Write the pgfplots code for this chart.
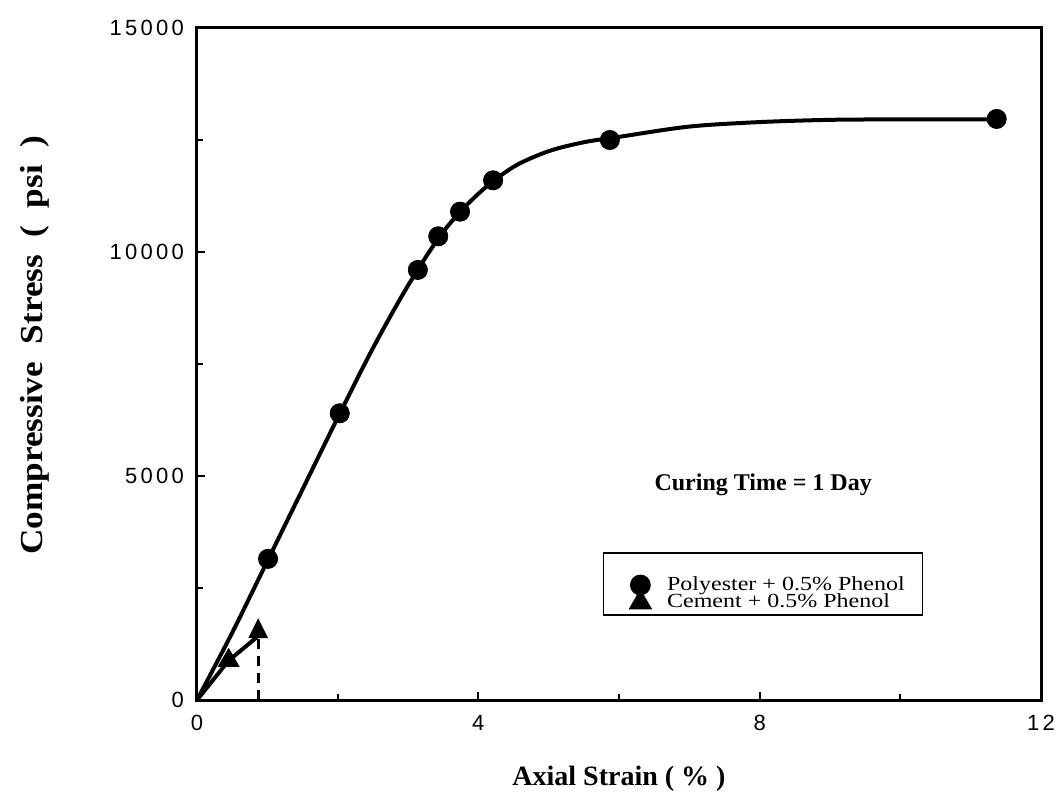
\documentclass[border=0pt]{standalone}
\usepackage{fontspec}
\setmainfont{Liberation Serif}
\newfontfamily\tickfont[LetterSpace=15]{Liberation Sans}
\newfontfamily\legfont[FakeStretch=1.2]{Liberation Serif}
\newfontfamily\labfont[FakeStretch=1.1]{Liberation Serif}
\usepackage{pgfplots}
\pgfplotsset{compat=1.18}
\usetikzlibrary{arrows.meta}
\begin{document}
\begin{tikzpicture}
\begin{axis}[name=ax,
  scale only axis, width=422pt, height=336pt,
  xmin=0, xmax=12, ymin=0, ymax=15000,
  xtick={0,4,8,12}, minor xtick={2,6,10},
  ytick={0,5000,10000,15000}, minor ytick={2500,7500,12500},
  tick pos=left, tick align=inside,
  major tick length=4pt, minor tick length=3pt,
  axis line style={line width=1.5pt},
  every tick/.style={line width=1pt, black},
  scaled y ticks=false, scaled x ticks=false,
  /pgf/number format/1000 sep={},
  /pgf/number format/assume math mode=true,
  tick label style={font=\tickfont\fontsize{11}{11}\selectfont},
  yticklabel style={xshift=-3pt},
  xticklabel style={yshift=-4pt},
  xlabel={Axial Strain ( \% )},
  xlabel style={font=\fontsize{14}{14}\selectfont\bfseries, at={(axis description cs:0.5,0)}, anchor=base, yshift=-42.5pt},
  ylabel={Compressive\ \ Stress\ \ (\ \ psi\ \ )},
  ylabel style={font=\labfont\fontsize{16}{16}\selectfont\bfseries, at={(axis description cs:-0.192,0.528)}, anchor=center},
  legend style={at={(axis cs:5.77,3304)}, anchor=north west, draw=black, line width=0.8pt,
    font=\legfont\fontsize{10}{10}\selectfont, inner xsep=7pt, inner ysep=2pt, row sep=0.3pt,
    nodes={inner ysep=0pt}},
  legend cell align=left,
  legend image code/.code={\path[draw=none,fill=none] (0cm,-3.5pt) (0.8cm,3.5pt); \draw[overlay,mark repeat=2,mark phase=2,#1] plot coordinates {(0cm,0cm) (0.4cm,0cm) (0.8cm,0cm)};},
]
% fitted curve (polyester)
\addplot[black, line width=2pt, smooth, forget plot] coordinates {
 (0,0) (0.5,1500) (1,3100) (1.5,4700) (2,6300) (2.5,7850) (3,9250) (3.5,10450)
 (4,11300) (4.5,11900) (5,12250) (5.5,12450) (6,12570) (7,12800) (8,12900)
 (9,12950) (10,12960) (11.4,12960)};
% cement line
\addplot[black, line width=2pt, forget plot] coordinates {(0,0) (0.45,880) (0.85,1400)};
\addplot[black, line width=1.5pt, dash pattern=on 5pt off 3.5pt, -{Triangle[width=9.5pt,length=10pt]}, forget plot] coordinates {(0.87,0) (0.87,1830)};
\addlegendimage{empty legend}\addlegendentry{\rule{0pt}{8.1pt}}
\addplot[only marks, mark=*, mark size=4.8pt, black] coordinates {
 (1.01,3150) (2.03,6400) (3.14,9600) (3.43,10350) (3.74,10900) (4.21,11600) (5.87,12500) (11.37,12970)};
\addlegendentry{Polyester + 0.5\% Phenol}
\addplot[only marks, mark=triangle*, mark size=6pt, black] coordinates {(0.45,880)};
\addlegendentry{Cement + 0.5\% Phenol}
\node[font=\fontsize{12}{12}\selectfont\bfseries] at (axis cs:8.05,4800) {Curing Time = 1 Day};
\end{axis}
\pgfresetboundingbox
\path[use as bounding box] ([xshift=-98.5pt,yshift=-52pt]ax.south west) rectangle ([xshift=7.5pt,yshift=14pt]ax.north east);
\end{tikzpicture}
\end{document}
